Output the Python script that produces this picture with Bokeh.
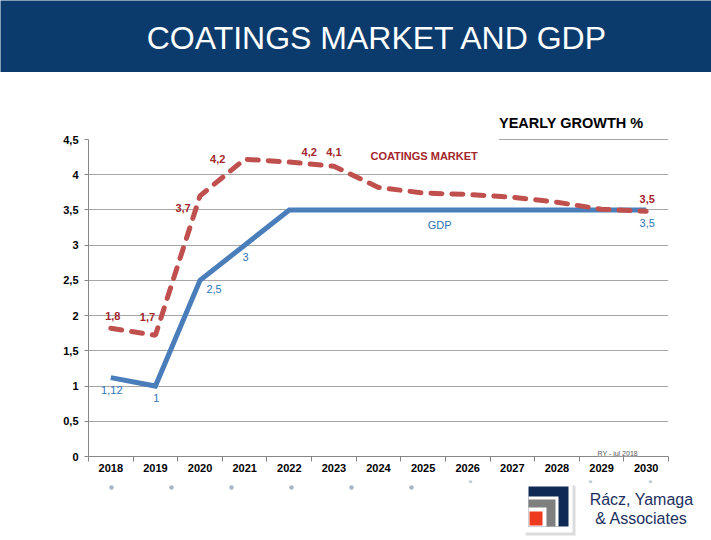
from bokeh.plotting import figure
from bokeh.models import Range1d, FixedTicker, Label, ColumnDataSource, CustomJSTickFormatter
from bokeh.layouts import column, row
from bokeh.core.properties import value
from bokeh.embed import file_html
from bokeh.resources import INLINE

years = ["2018", "2019", "2020", "2021", "2022", "2023", "2024", "2025", "2026", "2027", "2028", "2029", "2030"]
gdp = [1.12, 1.0, 2.5, 3.0, 3.5, 3.5, 3.5, 3.5, 3.5, 3.5, 3.5, 3.5, 3.5]
coatings = [1.82, 1.72, 3.7, 4.22, 4.18, 4.12, 3.82, 3.74, 3.72, 3.68, 3.61, 3.51, 3.48]
gdp_labels = ["1,12", "1", "2,5", "3", "3,5"]
gdp_label_idx = [0, 1, 2, 3, 12]
coat_labels = ["1,8", "1,7", "3,7", "4,2", "4,2", "4,1", "3,5"]
coat_label_idx = [0, 1, 2, 3, 4, 5, 12]
y_ticks = [0, 0.5, 1, 1.5, 2, 2.5, 3, 3.5, 4, 4.5]

FONT = "Liberation Sans"
NAVY = "#0b3a6c"
W = 711
HEAD_H = 72          # header band 0..72
MAIN_TOP, MAIN_BOT = 72, 480
FL, FR = 88, 668     # frame left/right (page px)
F_TOP, Y45, FB = 100, 139, 456   # frame top, pixel of 4.5, frame bottom

def blank(width, height, xr, yr, bg):
    f = figure(width=width, height=height, x_range=xr, y_range=yr, output_backend="svg",
               toolbar_location=None, x_axis_location=None, y_axis_location=None,
               min_border=0, background_fill_color=bg, border_fill_color=bg)
    f.grid.visible = False
    f.outline_line_color = None
    return f

# ---------- header band ----------
head = blank(W, HEAD_H, Range1d(0, W), Range1d(HEAD_H, 0), NAVY)
head.add_layout(Label(x=377, y=37, text="COATINGS MARKET AND GDP", text_align="center",
                      text_baseline="middle", text_color="white", text_font=FONT,
                      text_font_size="32px"))

# ---------- main chart ----------
y_top = 4.5 * (FB - F_TOP) / (FB - Y45)
xs = [i + 0.5 for i in range(len(years))]
p = figure(width=W, height=MAIN_BOT - MAIN_TOP, x_range=Range1d(0, len(years)),
           y_range=Range1d(0, y_top), output_backend="svg", toolbar_location=None,
           min_border_left=FL, min_border_right=W - FR, min_border_top=F_TOP - MAIN_TOP,
           min_border_bottom=MAIN_BOT - FB, background_fill_color="white", border_fill_color="white")
p.outline_line_color = None

AX = "#868686"
p.xaxis.ticker = FixedTicker(ticks=xs, minor_ticks=list(range(len(years) + 1)))
p.xaxis.formatter = CustomJSTickFormatter(args=dict(years=years), code="return years[Math.floor(tick)];")
p.xaxis.major_tick_line_color = None
p.xaxis.major_tick_out = 0
p.xaxis.major_tick_in = 0
p.xaxis.minor_tick_line_color = AX
p.xaxis.minor_tick_out = 5
p.xaxis.minor_tick_in = 0
p.xaxis.axis_line_color = AX
p.xaxis.major_label_standoff = 2
p.xaxis.major_label_text_font = FONT
p.xaxis.major_label_text_font_size = "11px"
p.xaxis.major_label_text_font_style = "bold"
p.xaxis.major_label_text_color = "black"

p.yaxis.ticker = FixedTicker(ticks=y_ticks, minor_ticks=[])
p.yaxis.bounds = (0, 4.5)
p.yaxis.formatter = CustomJSTickFormatter(code="return tick.toString().replace('.', ',');")
p.yaxis.major_tick_out = 4
p.yaxis.major_tick_in = 0
p.yaxis.major_tick_line_color = AX
p.yaxis.axis_line_color = AX
p.yaxis.major_label_standoff = 6
p.yaxis.major_label_text_font = FONT
p.yaxis.major_label_text_font_size = "11px"
p.yaxis.major_label_text_font_style = "bold"
p.yaxis.major_label_text_color = "black"

p.xgrid.grid_line_color = None
p.ygrid.ticker = FixedTicker(ticks=[t for t in y_ticks if 0 < t < 4.5])
p.ygrid.grid_line_color = "#a6a6a6"
p.ygrid.grid_line_width = 1

# rule under the box title
p.segment(x0=[9.2], y0=[4.5], x1=[13], y1=[4.5], line_color="#a6a6a6", line_width=1)

p.line(xs, gdp, line_color="#4a7ebb", line_width=5, line_join="miter")
p.line(xs, coatings, line_color="#c0504d", line_width=5, line_dash="11 10", line_cap="round")

RED_T = "#a3262b"
BLUE_T = "#2e74b5"

coat_src = ColumnDataSource(dict(
    x=[xs[i] for i in coat_label_idx], y=[coatings[i] for i in coat_label_idx], t=coat_labels,
    dx=[2, -8, -17, -27, 20, 0, 1], dy=[-12, -18, 12, 0, -10, -14, -12]))
p.text(x="x", y="y", text="t", x_offset="dx", y_offset="dy", source=coat_src,
       text_align="center", text_baseline="middle", text_color=RED_T,
       text_font=value(FONT), text_font_size="11px", text_font_style="bold")

gdp_src = ColumnDataSource(dict(
    x=[xs[i] for i in gdp_label_idx], y=[gdp[i] for i in gdp_label_idx], t=gdp_labels,
    dx=[1, 1, 14, 1, 1], dy=[12, 12, 9, 12, 13]))
p.text(x="x", y="y", text="t", x_offset="dx", y_offset="dy", source=gdp_src,
       text_align="center", text_baseline="middle", text_color=BLUE_T,
       text_font=value(FONT), text_font_size="11px")

p.add_layout(Label(x=6.32, y=4.27, text="COATINGS MARKET", text_align="left", text_baseline="middle",
                   text_color=RED_T, text_font=FONT, text_font_size="11px", text_font_style="bold"))
p.add_layout(Label(x=7.87, y=3.28, text="GDP", text_align="center", text_baseline="middle",
                   text_color=BLUE_T, text_font=FONT, text_font_size="11px"))
p.add_layout(Label(x=11.86, y=0, text="RY - jul 2018", text_align="center", text_baseline="bottom",
                   text_color="#595959", text_font=FONT, text_font_size="7px",
                   background_fill_color="white", background_fill_alpha=0.6))
p.add_layout(Label(x=9.2, y=4.74, text="YEARLY GROWTH %", text_align="left", text_baseline="middle",
                   text_color="black", text_font=FONT, text_font_size="14.5px", text_font_style="bold"))

# ---------- footer (page coordinates) ----------
foot = blank(W, 540 - MAIN_BOT, Range1d(0, W), Range1d(540, MAIN_BOT), "white")
dot_x = [111, 171, 231, 291, 351, 411, 470, 590, 650]
dot_y = [487, 487, 487, 487, 487, 487, 481, 481, 481]
dot_c = ["#a9b5c5"] * 6 + ["#c2cad6"] * 3
dot_s = [4.5] * 6 + [3.5] * 3
foot.scatter(dot_x, dot_y, size=dot_s, fill_color=dot_c, line_color=None)
logo = dict(l=[525, 523, 528, 528, 528, 528, 529], r=[575, 572, 568, 558, 555, 546, 542],
            t=[485, 482, 486, 496, 499, 507, 511], b=[535, 532, 526, 526, 526, 526, 525],
            c=["#dcdcdc", "white", "#102a56", "white", "#7f7f7f", "white", "#ee3a1f"])
foot.quad(left="l", right="r", top="t", bottom="b", fill_color="c", line_color=None,
          source=ColumnDataSource(logo))
foot.add_layout(Label(x=641, y=499, text="Rácz, Yamaga", text_align="center", text_baseline="middle",
                      text_color="#1c2f5e", text_font=FONT, text_font_size="16px"))
foot.add_layout(Label(x=641, y=518, text="& Associates", text_align="center", text_baseline="middle",
                      text_color="#1c2f5e", text_font=FONT, text_font_size="16px"))

layout = column(row(head), p, row(foot), spacing=0)
open("out.html", "w").write(file_html(layout, INLINE))
